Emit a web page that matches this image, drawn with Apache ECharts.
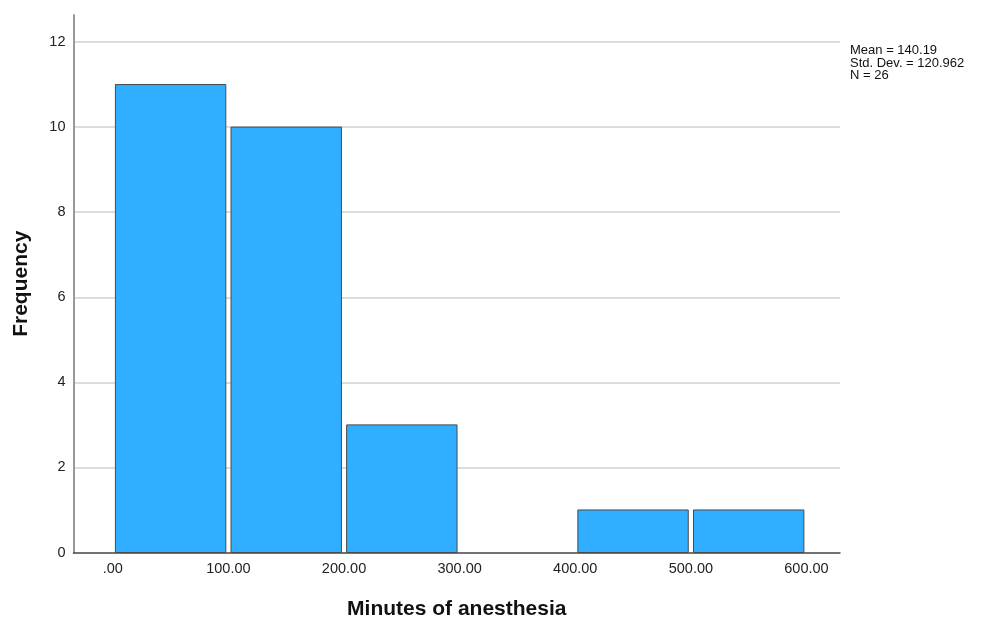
<!DOCTYPE html>
<html><head><meta charset="utf-8">
<script src="https://cdn.jsdelivr.net/npm/echarts@6/dist/echarts.min.js"></script>
<style>html,body{margin:0;padding:0;background:#fff}#c{width:981px;height:618px}</style>
</head><body><div id="c"></div>
<script>
const binStarts = [0, 100, 200, 300, 400, 500];
const binEnds = [100, 200, 300, 400, 500, 600];
const frequencies = [11, 10, 3, 0, 1, 1];
const xTickValues = [0, 100, 200, 300, 400, 500, 600];
const yTickValues = [0, 2, 4, 6, 8, 10, 12];
const yGridValues = [2, 4, 6, 8, 10, 12];
const statsLines = ['Mean = 140.19', 'Std. Dev. = 120.962', 'N = 26'];

const data = binStarts.map((s, i) => [s, binEnds[i], frequencies[i]]);
const chart = echarts.init(document.getElementById('c'), null, {renderer: 'canvas'});
const font = "'Liberation Sans', Arial, sans-serif";
chart.setOption({
  animation: false,
  grid: {left: 73.5, right: 141, top: 15, bottom: 65.5, containLabel: false, outerBoundsMode: 'none'},
  xAxis: {
    type: 'value', min: -34, max: 629,
    name: 'Minutes of anesthesia', nameLocation: 'middle', nameGap: 46,
    nameTextStyle: {fontFamily: font, fontSize: 21, fontWeight: 'bold', color: '#111'},
    axisLine: {show: true, onZero: false, lineStyle: {color: '#444', width: 1.5}},
    axisTick: {show: false},
    splitLine: {show: false},
    axisLabel: {customValues: xTickValues, margin: 9, fontFamily: font, fontSize: 14.5, color: '#222',
      formatter: v => v === 0 ? '.00' : v.toFixed(2)}
  },
  yAxis: {
    type: 'value', min: 0, max: 12.635,
    name: 'Frequency', nameLocation: 'middle', nameGap: 42, nameRotate: 90,
    nameTextStyle: {fontFamily: font, fontSize: 21, fontWeight: 'bold', color: '#111'},
    axisLine: {show: true, onZero: false, lineStyle: {color: '#999', width: 2}},
    axisTick: {show: false},
    splitLine: {show: false},
    axisLabel: {customValues: yTickValues, margin: 8, fontFamily: font, fontSize: 14.5, color: '#222'}
  },
  series: [{
    type: 'custom',
    data: data,
    encode: {x: [0, 1], y: 2},
    renderItem: function (params, api) {
      if (api.value(2) <= 0) return null;
      const p0 = api.coord([api.value(0), api.value(2)]);
      const p1 = api.coord([api.value(1), 0]);
      const l = p0[0] + 2.6, r = p1[0] - 2.6;
      return {type: 'rect', shape: {x: l, y: p0[1], width: r - l, height: p1[1] - p0[1]},
        style: {fill: '#30AEFF', stroke: '#4a4a4a', lineWidth: 1}};
    },
    markLine: {
      silent: true, symbol: 'none', label: {show: false},
      lineStyle: {color: '#d0d0d0', width: 1.5, type: 'solid'},
      data: yGridValues.map(v => ({yAxis: v})),
      z: 0
    },
    z: 2
  }],
  graphic: [{
    type: 'text', left: 850, top: 44,
    style: {text: statsLines.join('\n'), fontFamily: font, fontSize: 13, lineHeight: 12.5, fill: '#111'}
  }]
});
</script></body></html>
